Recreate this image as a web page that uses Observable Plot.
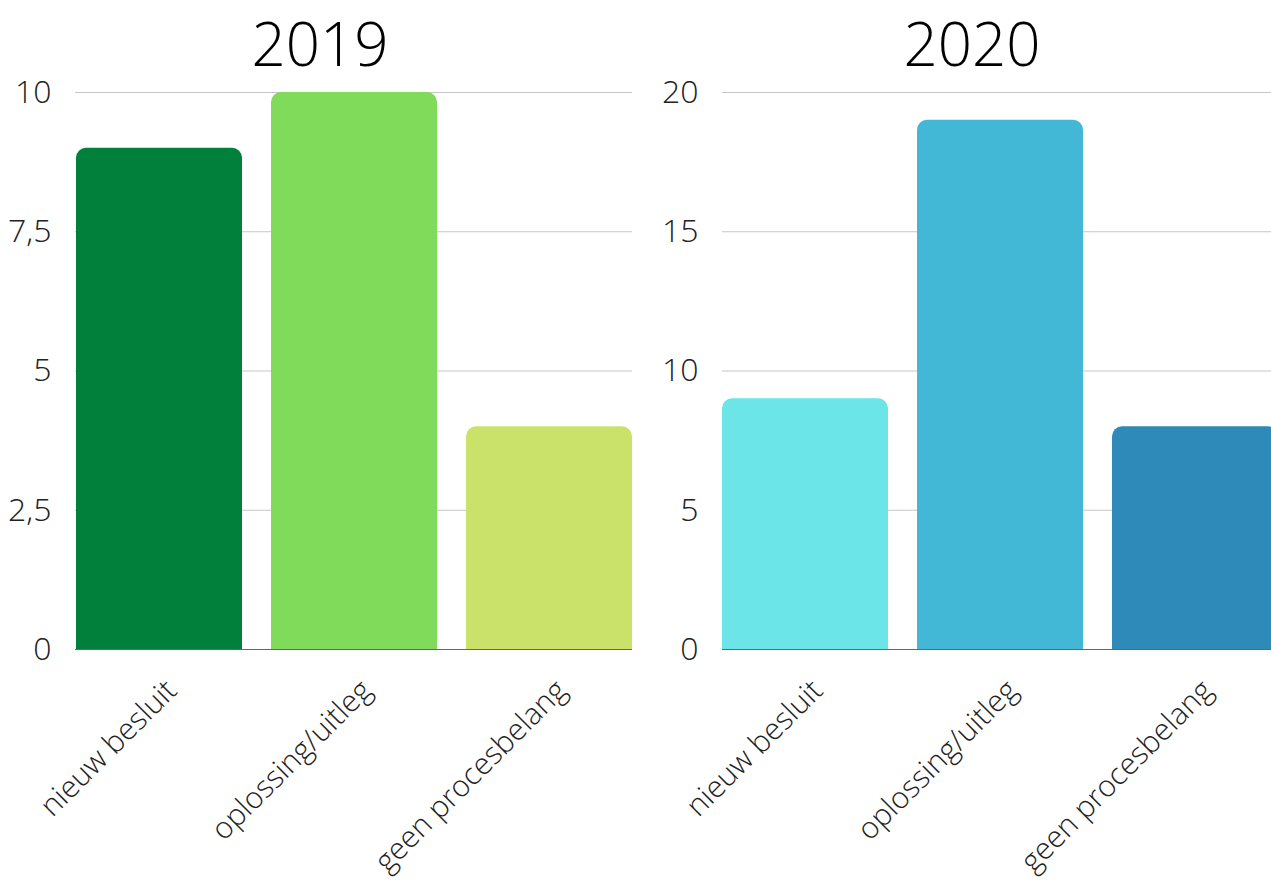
<!DOCTYPE html>
<html>
<head>
<meta charset="utf-8">
<script src="https://cdn.jsdelivr.net/npm/d3@7"></script>
<script src="https://cdn.jsdelivr.net/npm/@observablehq/plot@0.6"></script>
<style>
  html, body { margin: 0; padding: 0; background: #fff; overflow: hidden; width: 1271px; height: 881px; }
  #wrap { position: relative; width: 1271px; height: 881px; overflow: hidden; font-family: "Open Sans", sans-serif; }
  .panel { position: absolute; top: 0; }
  .title { position: absolute; top: 0; font-size: 60px; font-weight: 300; color: #000; text-align: center; line-height: 86px; }
  .panel svg { position: absolute; top: 0; left: 0; overflow: visible; }
</style>
</head>
<body>
<div id="wrap"></div>
<script>
const categories = ["nieuw besluit", "oplossing/uitleg", "geen procesbelang"];
const values2019 = [9, 10, 4];
const values2020 = [9, 19, 8];
const colors2019 = ["#00803A", "#80DB5A", "#CBE26A"];
const colors2020 = ["#6BE5E8", "#42B7D6", "#2E8BB9"];
const ticks2019 = [0, 2.5, 5, 7.5, 10];
const ticks2020 = [0, 5, 10, 15, 20];

const fmt = d => String(d).replace(".", ",");

function panel({title, values, colors, ticks, max, left, width, marginLeft, titleLeft, titleWidth}) {
  const data = categories.map((c, i) => ({cat: c, value: values[i], color: colors[i]}));
  const div = document.createElement("div");
  div.className = "panel";
  div.style.left = left + "px";
  div.style.width = width + "px";
  div.style.height = "881px";
  const chart = Plot.plot({
    width,
    height: 881,
    marginTop: 92,
    marginBottom: 232,
    marginLeft,
    marginRight: 8,
    style: {fontFamily: "Open Sans, sans-serif", fontWeight: 300, fontSize: "32px", color: "#222", background: "transparent", overflow: "visible"},
    x: {domain: categories, paddingInner: 0.149, paddingOuter: 0, label: null},
    y: {domain: [0, max], label: null},
    marks: [
      Plot.gridY(ticks, {stroke: "#c6c6c6", strokeOpacity: 1, strokeWidth: 1}),
      Plot.barY(data, {x: "cat", y: "value", fill: "color", ry1: 10}),
      Plot.ruleY([0], {stroke: "#666", strokeWidth: 1}),
      Plot.axisY({ticks, tickFormat: fmt, tickSize: 0, tickPadding: 24, fontSize: 32, fill: "#222", fontWeight: 300}),
      Plot.axisX({tickSize: 0, tickRotate: -45, tickPadding: 22, fontSize: 30, fill: "#222", fontWeight: 300, dx: 12, dy: 14})
    ]
  });
  div.appendChild(chart);
  const t = document.createElement("div");
  t.className = "title";
  t.textContent = title;
  t.style.left = titleLeft + "px";
  t.style.width = titleWidth + "px";
  div.appendChild(t);
  document.getElementById("wrap").appendChild(div);
}

panel({title: "2019", values: values2019, colors: colors2019, ticks: ticks2019, max: 10,
       left: 0, width: 640, marginLeft: 75, titleLeft: 0, titleWidth: 640});
panel({title: "2020", values: values2020, colors: colors2020, ticks: ticks2020, max: 20,
       left: 640, width: 646, marginLeft: 82, titleLeft: 12, titleWidth: 640});
</script>
</body>
</html>
